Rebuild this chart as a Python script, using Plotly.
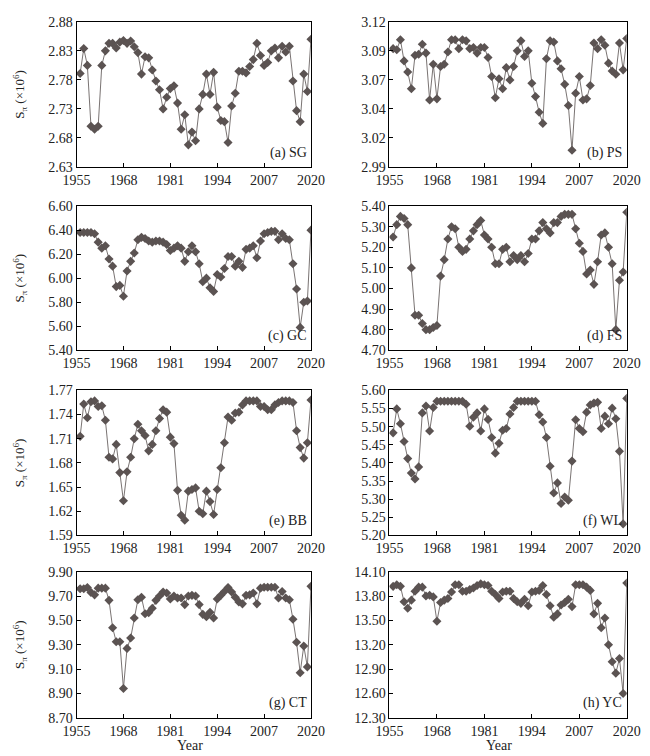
import plotly.graph_objects as go

# years 1956-2020, one value per year
years = list(range(1956, 2021))

sg = [2.791, 2.834, 2.805, 2.700, 2.695, 2.700, 2.805, 2.830, 2.843, 2.843,
      2.835, 2.845, 2.848, 2.843, 2.847, 2.837, 2.827, 2.790, 2.820, 2.818,
      2.797, 2.778, 2.763, 2.730, 2.750, 2.765, 2.770, 2.740, 2.695, 2.720,
      2.668, 2.690, 2.675, 2.730, 2.755, 2.790, 2.755, 2.793, 2.733, 2.710,
      2.708, 2.672, 2.735, 2.757, 2.795, 2.795, 2.792, 2.803, 2.815, 2.843,
      2.822, 2.805, 2.810, 2.830, 2.835, 2.818, 2.838, 2.828, 2.838, 2.778,
      2.727, 2.708, 2.790, 2.760, 2.850]

ps = [3.096, 3.095, 3.104, 3.085, 3.075, 3.060, 3.090, 3.091, 3.100, 3.092,
      3.050, 3.082, 3.051, 3.080, 3.082, 3.093, 3.104, 3.104, 3.096, 3.104,
      3.103, 3.096, 3.097, 3.092, 3.097, 3.097, 3.088, 3.071, 3.052, 3.069,
      3.060, 3.079, 3.068, 3.080, 3.094, 3.103, 3.089, 3.094, 3.065, 3.053,
      3.039, 3.029, 3.087, 3.103, 3.102, 3.085, 3.078, 3.064, 3.045, 3.005,
      3.056, 3.071, 3.050, 3.051, 3.063, 3.101, 3.096, 3.104, 3.099, 3.083,
      3.076, 3.073, 3.101, 3.077, 3.105]

gc = [6.38, 6.38, 6.38, 6.38, 6.37, 6.30, 6.25, 6.27, 6.16, 6.10,
      5.93, 5.94, 5.85, 6.06, 6.14, 6.21, 6.32, 6.34, 6.33, 6.31,
      6.30, 6.31, 6.31, 6.30, 6.28, 6.23, 6.25, 6.27, 6.25, 6.14,
      6.22, 6.27, 6.22, 6.12, 5.97, 6.00, 5.92, 5.89, 6.03, 6.01,
      6.08, 6.18, 6.18, 6.10, 6.14, 6.09, 6.24, 6.25, 6.27, 6.17,
      6.31, 6.37, 6.38, 6.39, 6.39, 6.32, 6.37, 6.33, 6.32, 6.12,
      5.91, 5.59, 5.80, 5.81, 6.40]

fs = [5.25, 5.31, 5.35, 5.34, 5.31, 5.10, 4.87, 4.87, 4.83, 4.80,
      4.80, 4.81, 4.82, 5.06, 5.14, 5.24, 5.30, 5.29, 5.20, 5.18,
      5.19, 5.24, 5.28, 5.31, 5.33, 5.26, 5.24, 5.20, 5.12, 5.12,
      5.19, 5.20, 5.13, 5.16, 5.14, 5.16, 5.13, 5.17, 5.24, 5.24,
      5.28, 5.32, 5.29, 5.27, 5.32, 5.32, 5.35, 5.36, 5.36, 5.36,
      5.29, 5.22, 5.18, 5.07, 5.09, 5.02, 5.13, 5.26, 5.27, 5.20,
      5.12, 4.80, 5.04, 5.08, 5.37]

bb = [1.713, 1.753, 1.736, 1.756, 1.757, 1.750, 1.751, 1.733, 1.687, 1.685,
      1.703, 1.668, 1.633, 1.669, 1.687, 1.710, 1.728, 1.720, 1.714, 1.695,
      1.703, 1.720, 1.735, 1.746, 1.743, 1.712, 1.704, 1.646, 1.615, 1.609,
      1.645, 1.647, 1.649, 1.620, 1.617, 1.645, 1.632, 1.616, 1.647, 1.674,
      1.705, 1.737, 1.733, 1.742, 1.743, 1.752, 1.757, 1.757, 1.757, 1.757,
      1.750, 1.750, 1.746, 1.746, 1.752, 1.755, 1.757, 1.757, 1.757, 1.755,
      1.720, 1.699, 1.686, 1.705, 1.758]

wl = [5.483, 5.549, 5.508, 5.459, 5.412, 5.372, 5.356, 5.389, 5.538, 5.557,
      5.488, 5.553, 5.570, 5.570, 5.570, 5.570, 5.570, 5.570, 5.570, 5.570,
      5.562, 5.501, 5.526, 5.538, 5.488, 5.549, 5.520, 5.470, 5.427, 5.454,
      5.490, 5.495, 5.535, 5.553, 5.570, 5.570, 5.570, 5.570, 5.570, 5.570,
      5.533, 5.513, 5.470, 5.391, 5.317, 5.345, 5.288, 5.306, 5.297, 5.405,
      5.519, 5.495, 5.486, 5.540, 5.560, 5.565, 5.567, 5.495, 5.529, 5.508,
      5.551, 5.522, 5.432, 5.232, 5.578]

ct = [9.76, 9.76, 9.77, 9.73, 9.71, 9.765, 9.765, 9.765, 9.665, 9.44,
      9.325, 9.325, 8.94, 9.27, 9.355, 9.52, 9.67, 9.69, 9.555, 9.563,
      9.60, 9.665, 9.70, 9.733, 9.725, 9.676, 9.70, 9.684, 9.684, 9.63,
      9.70, 9.706, 9.70, 9.63, 9.55, 9.53, 9.567, 9.52, 9.676, 9.706,
      9.738, 9.77, 9.733, 9.69, 9.652, 9.636, 9.706, 9.71, 9.725, 9.636,
      9.765, 9.773, 9.773, 9.773, 9.773, 9.684, 9.738, 9.684, 9.67, 9.51,
      9.32, 9.07, 9.29, 9.118, 9.78]

yc = [13.92, 13.94, 13.92, 13.73, 13.65, 13.75, 13.86, 13.91, 13.91, 13.80,
      13.81, 13.79, 13.49, 13.72, 13.75, 13.77, 13.85, 13.94, 13.94, 13.86,
      13.86, 13.88, 13.90, 13.93, 13.95, 13.94, 13.93, 13.86, 13.82, 13.77,
      13.85, 13.86, 13.86, 13.77, 13.73, 13.71, 13.76, 13.68, 13.85, 13.86,
      13.87, 13.93, 13.82, 13.68, 13.54, 13.58, 13.69, 13.72, 13.76, 13.67,
      13.94, 13.94, 13.94, 13.91, 13.87, 13.58, 13.71, 13.41, 13.53, 13.20,
      12.99, 12.85, 13.03, 12.60, 13.96]

labels = ["(a) SG", "(b) PS", "(c) GC", "(d) FS", "(e) BB", "(f) WL", "(g) CT", "(h) YC"]
series = [sg, ps, gc, fs, bb, wl, ct, yc]
y_ranges = [(2.63, 2.88), (2.99, 3.12), (5.40, 6.60), (4.70, 5.40),
            (1.59, 1.77), (5.20, 5.60), (8.70, 9.90), (12.30, 14.10)]
y_steps = [0.05, 0.026, 0.2, 0.1, 0.03, 0.05, 0.2, 0.3]
x_ticks = [1955, 1968, 1981, 1994, 2007, 2020]

W, H = 650, 756
col_px = [(57, 302), (384, 632)]
row_px = [(7, 155), (195, 342), (383, 531), (568, 717)]
year_x = [176, 498]

FONT = "Liberation Serif, Times New Roman, serif"
col = "#5b5352"

fig = go.Figure()
layout = dict(width=W, height=H, margin=dict(l=0, r=0, t=0, b=0),
              paper_bgcolor="white", plot_bgcolor="white",
              font=dict(family=FONT, size=14, color="#222"),
              showlegend=False, annotations=[])

for k, (vals, lab, (lo, hi), step) in enumerate(zip(series, labels, y_ranges, y_steps)):
    r, c = divmod(k, 2)
    n = k + 1
    xa = "x" if n == 1 else "x%d" % n
    ya = "y" if n == 1 else "y%d" % n
    fig.add_trace(go.Scatter(x=years, y=vals, mode="lines+markers",
                             xaxis=xa, yaxis=ya,
                             line=dict(color="#6a6362", width=0.9),
                             marker=dict(symbol="diamond", size=7, color=col)))
    x0, x1 = col_px[c]
    t0, t1 = row_px[r]
    ax = dict(domain=[x0 / W, x1 / W], range=[1955, 2020], tickvals=x_ticks,
              anchor=ya, showgrid=False, zeroline=False, showline=True,
              linecolor="black", linewidth=1, mirror=True,
              ticks="inside", ticklen=4, tickcolor="black",
              tickfont=dict(size=14))
    ay = dict(domain=[1 - t1 / H, 1 - t0 / H], range=[lo, hi],
              tick0=lo, dtick=step, tickformat=".2f",
              anchor=xa, showgrid=False, zeroline=False, showline=True,
              linecolor="black", linewidth=1, mirror=True,
              ticks="inside", ticklen=4, tickcolor="black",
              tickfont=dict(size=14))
    if c == 0:
        ay["title"] = dict(text="S<sub>π</sub> (×10<sup>6</sup>)", font=dict(size=13), standoff=20)
    layout["xaxis" if n == 1 else "xaxis%d" % n] = ax
    layout["yaxis" if n == 1 else "yaxis%d" % n] = ay
    layout["annotations"].append(dict(
        text=lab, xref=xa + " domain", yref=ya + " domain", x=0.99, y=0.03,
        xanchor="right", yanchor="bottom", showarrow=False,
        font=dict(size=14, family=FONT)))

for xp in year_x:
    layout["annotations"].append(dict(
        text="Year", xref="paper", yref="paper", x=xp / W, y=1 - 745 / H,
        xanchor="center", yanchor="middle", showarrow=False,
        font=dict(size=14, family=FONT)))

fig.update_layout(**layout)
fig.write_html("out.html")
